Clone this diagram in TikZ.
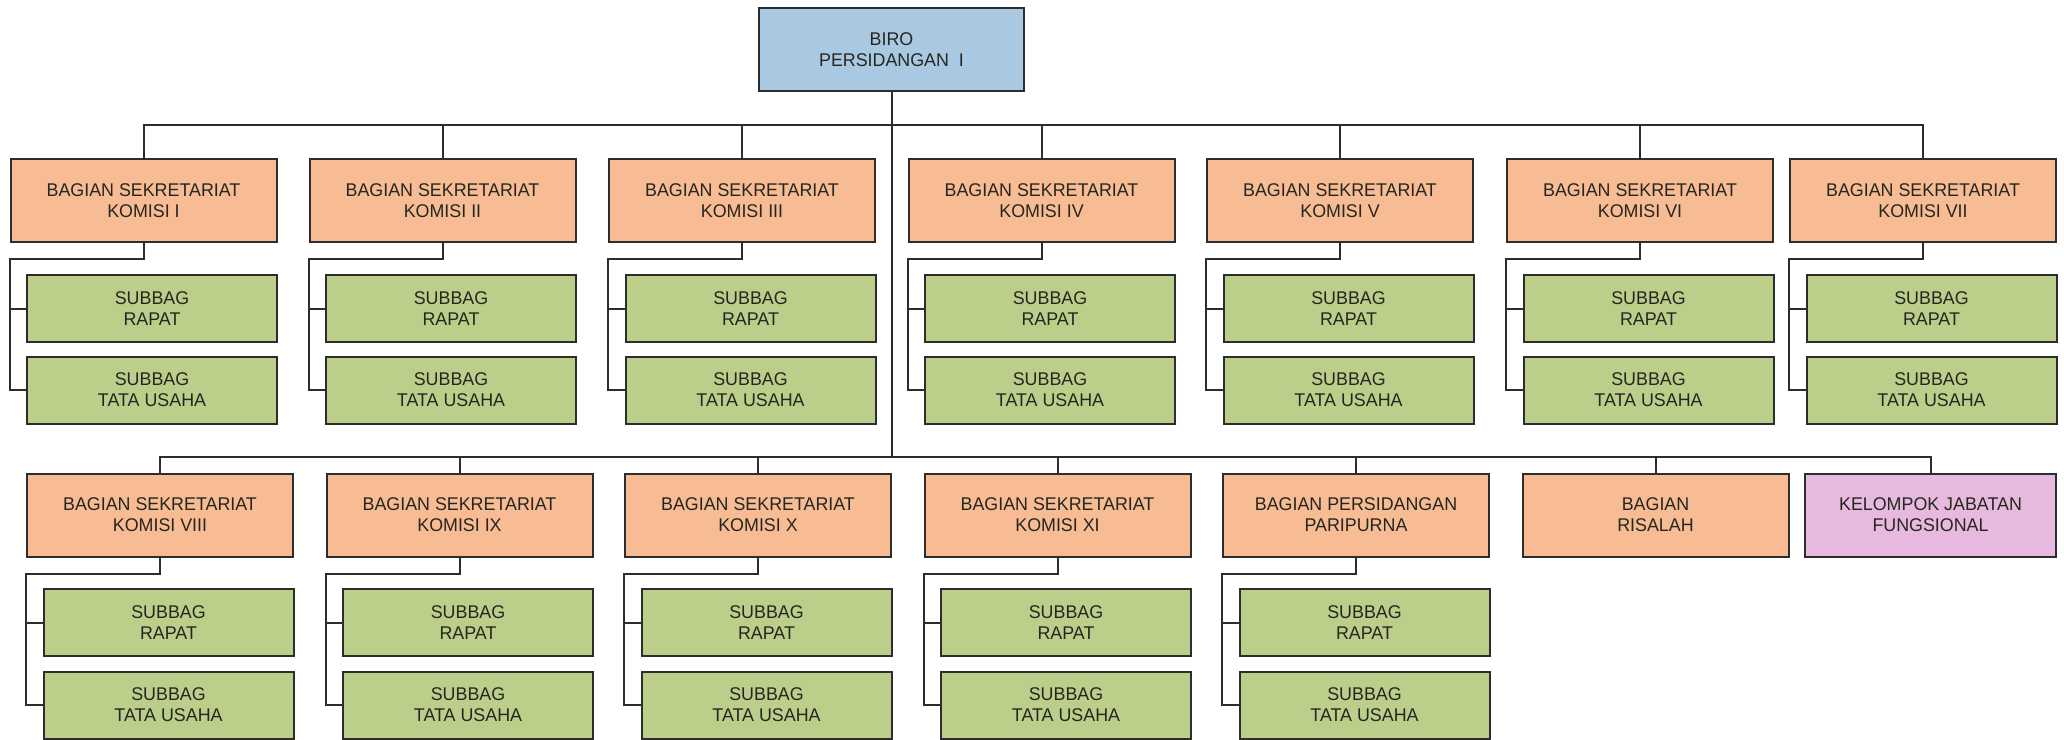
\documentclass[tikz,border=0pt]{standalone}
\usepackage{fontspec}
\setmainfont{Liberation Sans}[FakeStretch=0.97]
\usetikzlibrary{calc}

\definecolor{biroblue}{RGB}{169,201,227}
\definecolor{bagorange}{RGB}{247,188,147}
\definecolor{subgreen}{RGB}{188,207,138}
\definecolor{fungpink}{RGB}{232,185,222}
\definecolor{linegray}{RGB}{45,45,45}
\definecolor{textgray}{RGB}{38,38,32}

\tikzset{
  unit/.style={draw=linegray, line width=1pt, align=center, inner sep=0pt,
    text=textgray, font=\fontsize{9.2}{10.4}\selectfont},
  birobox/.style={unit, fill=biroblue, minimum width=132.5pt, minimum height=41.5pt},
  bagianbox/.style={unit, fill=bagorange, minimum width=133pt, minimum height=41.5pt},
  subbox/.style={unit, fill=subgreen, minimum width=125pt, minimum height=33.5pt},
  fungbox/.style={unit, fill=fungpink, minimum width=125.5pt, minimum height=41.5pt},
  link/.style={draw=linegray, line width=1pt}
}

\begin{document}
\begin{tikzpicture}[x=0.5pt, y=-0.5pt]
\useasboundingbox (0,0) rectangle (2064,739);

% head of the bureau
\node[birobox] (biro) at (891.5,49.5) {BIRO\\PERSIDANGAN\ \ I};
\coordinate (bus1) at (891.5,125);
\coordinate (bus2) at (891.5,457);
\draw[link] (biro.south) -- (bus2);

% first row: sections with two sub-sections each
\foreach \i/\cx/\lab in {
    1/143.5/{BAGIAN SEKRETARIAT\\KOMISI I},
    2/442.5/{BAGIAN SEKRETARIAT\\KOMISI II},
    3/742/{BAGIAN SEKRETARIAT\\KOMISI III},
    4/1041.5/{BAGIAN SEKRETARIAT\\KOMISI IV},
    5/1340/{BAGIAN SEKRETARIAT\\KOMISI V},
    6/1640/{BAGIAN SEKRETARIAT\\KOMISI VI},
    7/1923/{BAGIAN SEKRETARIAT\\KOMISI VII}} {
  \node[bagianbox] (k\i) at (\cx,200.5) {\lab};
  \node[subbox] (r\i) at (\cx+8.5,308.5) {SUBBAG\\RAPAT};
  \node[subbox] (t\i) at (\cx+8.5,390) {SUBBAG\\TATA USAHA};
  \coordinate (j\i) at ($(k\i.south west)+(0,15.5)$);
  \draw[link] (k\i.north) |- (bus1);
  \draw[link] (k\i.south) |- (j\i) |- (t\i.west);
  \draw[link] (j\i |- r\i.west) -- (r\i.west);
}

% second row: sections with two sub-sections each
\foreach \i/\cx/\lab in {
    8/160/{BAGIAN SEKRETARIAT\\KOMISI VIII},
    9/459.5/{BAGIAN SEKRETARIAT\\KOMISI IX},
    10/758/{BAGIAN SEKRETARIAT\\KOMISI X},
    11/1057.5/{BAGIAN SEKRETARIAT\\KOMISI XI},
    12/1356/{BAGIAN PERSIDANGAN\\PARIPURNA}} {
  \node[bagianbox] (k\i) at (\cx,515) {\lab};
  \node[subbox] (r\i) at (\cx+8.5,622.5) {SUBBAG\\RAPAT};
  \node[subbox] (t\i) at (\cx+8.5,705) {SUBBAG\\TATA USAHA};
  \coordinate (j\i) at ($(k\i.south west)+(0,16)$);
  \draw[link] (k\i.north) |- (bus2);
  \draw[link] (k\i.south) |- (j\i) |- (t\i.west);
  \draw[link] (j\i |- r\i.west) -- (r\i.west);
}

% second row: units without sub-sections
\node[bagianbox] (risalah) at (1655.5,515) {BAGIAN\\RISALAH};
\node[fungbox] (fung) at (1930.5,515) {KELOMPOK JABATAN\\FUNGSIONAL};
\draw[link] (risalah.north) |- (bus2);
\draw[link] (fung.north) |- (bus2);
\end{tikzpicture}
\end{document}
